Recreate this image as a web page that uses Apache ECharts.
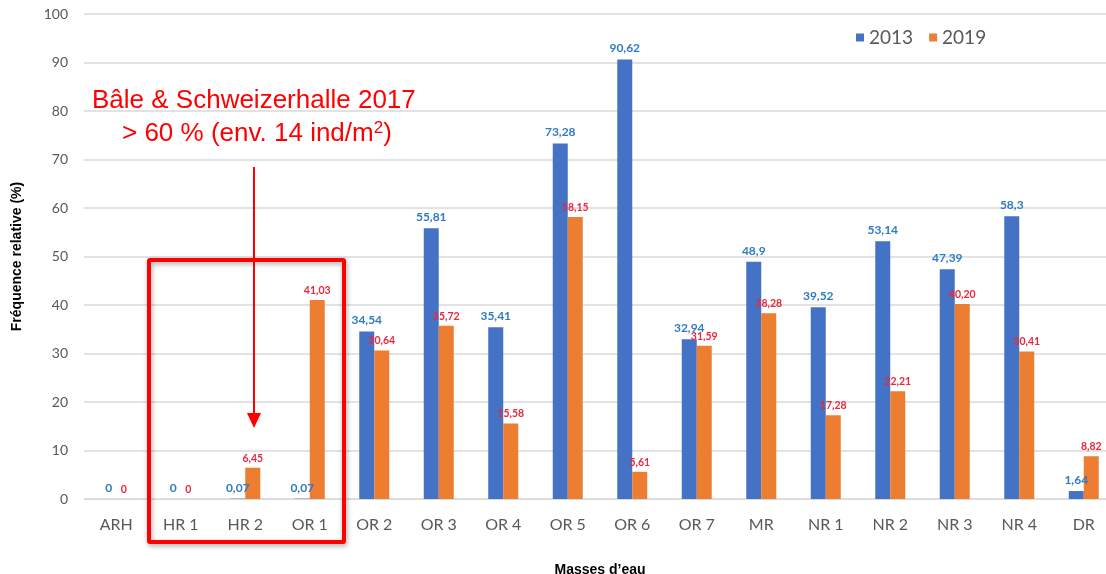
<!DOCTYPE html>
<html>
<head>
<meta charset="utf-8">
<script src="https://cdn.jsdelivr.net/npm/echarts@6/dist/echarts.min.js"></script>
<style>
  html, body { margin: 0; padding: 0; background: #fff; }
  #chart { width: 1106px; height: 574px; }
</style>
</head>
<body>
<div id="chart"></div>
<script>
// Masses d'eau (water bodies) along the Rhine
const categories = ['ARH', 'HR 1', 'HR 2', 'OR 1', 'OR 2', 'OR 3', 'OR 4', 'OR 5', 'OR 6', 'OR 7', 'MR', 'NR 1', 'NR 2', 'NR 3', 'NR 4', 'DR'];
// Relative frequency (%) per year
const values2013 = [0, 0, 0.07, 0.07, 34.54, 55.81, 35.41, 73.28, 90.62, 32.94, 48.9, 39.52, 53.14, 47.39, 58.3, 1.64];
const values2019 = [0, 0, 6.45, 41.03, 30.64, 35.72, 15.58, 58.15, 5.61, 31.59, 38.28, 17.28, 22.21, 40.20, 30.41, 8.82];
const yTicks = [0, 10, 20, 30, 40, 50, 60, 70, 80, 90, 100];

const fmt2013 = v => String(v).replace('.', ',');
const fmt2019 = v => (v === 0 ? '0' : v.toFixed(2).replace('.', ','));

const chart = echarts.init(document.getElementById('chart'), null, { renderer: 'canvas' });

const redText = {
  fill: '#FF0000',
  fontFamily: 'Liberation Sans, Arial, sans-serif',
  fontSize: 26
};

chart.setOption({
  animation: false,
  backgroundColor: '#ffffff',
  grid: { left: 84, top: 14, width: 1032, height: 485, containLabel: false, outerBoundsMode: 'none' },
  legend: {
    data: ['2013', '2019'],
    left: 851,
    top: 23,
    itemWidth: 8,
    itemHeight: 8,
    itemGap: 16,
    icon: 'rect',
    textStyle: { color: '#595959', fontSize: 19, fontFamily: 'Lato, Noto Sans, sans-serif' }
  },
  xAxis: {
    type: 'category',
    data: categories,
    name: 'Masses d\u2019eau',
    nameLocation: 'middle',
    nameGap: 64,
    nameTextStyle: { color: '#000', fontSize: 14, fontWeight: 'bold', fontFamily: 'Liberation Sans, Arial, sans-serif' },
    axisLine: { lineStyle: { color: '#d9d9d9', width: 1 } },
    axisTick: { show: false },
    axisLabel: { color: '#595959', fontSize: 16, margin: 18, fontFamily: 'Lato, Noto Sans, sans-serif' }
  },
  yAxis: {
    type: 'value',
    min: 0,
    max: 100,
    interval: 10,
    name: 'Fréquence relative (%)',
    nameLocation: 'middle',
    nameGap: 60,
    nameRotate: 90,
    nameTextStyle: { color: '#000', fontSize: 14, fontWeight: 'bold', fontFamily: 'Liberation Sans, Arial, sans-serif' },
    axisLine: { show: false },
    axisTick: { show: false },
    axisLabel: {
      color: '#595959', fontSize: 14, margin: 16, fontFamily: 'Lato, Noto Sans, sans-serif',
      formatter: v => (yTicks.includes(v) ? String(v) : '')
    },
    splitLine: { lineStyle: { color: '#d9d9d9', width: 1.5 } }
  },
  series: [
    {
      name: '2013',
      type: 'bar',
      data: values2013,
      barWidth: 15,
      barGap: '0%',
      itemStyle: { color: '#4472C4' },
      label: {
        show: true,
        position: 'top',
        distance: 5,
        color: '#2E7BC4',
        fontSize: 12,
        fontWeight: 'bold',
        fontFamily: 'Lato, Noto Sans, sans-serif',
        formatter: p => fmt2013(p.value)
      }
    },
    {
      name: '2019',
      type: 'bar',
      data: values2019,
      barWidth: 15,
      itemStyle: { color: '#ED7D31' },
      label: {
        show: true,
        position: 'top',
        distance: 4,
        color: '#E8283C',
        fontSize: 10.5,
        fontWeight: 'bold',
        fontFamily: 'Lato, Noto Sans, sans-serif',
        formatter: p => fmt2019(p.value)
      }
    }
  ],
  graphic: [
    // highlight box around HR 1 – OR 1
    {
      type: 'rect',
      shape: { x: 149, y: 260, width: 195, height: 282, r: 1 },
      style: {
        fill: 'none', stroke: '#FF0000', lineWidth: 4,
        shadowColor: 'rgba(0,0,0,0.35)', shadowBlur: 5, shadowOffsetX: 1, shadowOffsetY: 2
      },
      z: 100
    },
    // arrow pointing at HR 2
    {
      type: 'line',
      shape: { x1: 254, y1: 167, x2: 254, y2: 414 },
      style: { stroke: '#FF0000', lineWidth: 2 },
      z: 100
    },
    {
      type: 'polygon',
      shape: { points: [[247, 413], [261, 413], [254, 428]] },
      style: { fill: '#FF0000' },
      z: 100
    },
    {
      type: 'text',
      left: 92,
      top: 88,
      style: Object.assign({ text: 'Bâle & Schweizerhalle 2017' }, redText),
      z: 100
    },
    {
      type: 'text',
      left: 122,
      top: 120,
      style: Object.assign({}, redText, {
        text: '> 60 % (env. 14 ind/m{sup|2})',
        rich: {
          sup: { fill: '#FF0000', fontSize: 17, fontFamily: 'Liberation Sans, Arial, sans-serif', padding: [0, 0, 11, 0] }
        }
      }),
      z: 100
    }
  ]
});
</script>
</body>
</html>
